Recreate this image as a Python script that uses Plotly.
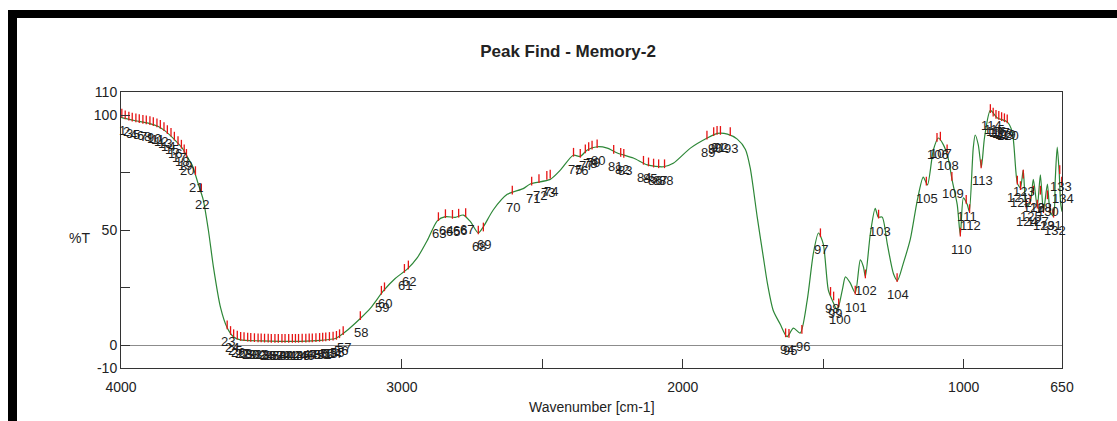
import plotly.graph_objects as go

# ---- data -----------------------------------------------------------------
curve_wn = [4000, 3985, 3949, 3903, 3867, 3842, 3807, 3782, 3760, 3746, 3725, 3707, 3689, 3671,
            3646, 3622, 3600, 3575, 3504, 3433, 3362, 3290, 3237, 3209, 3184, 3148, 3112, 3066,
            3023, 2981, 2945, 2909, 2874, 2845, 2810, 2781, 2756, 2728, 2710, 2675, 2625, 2568,
            2543, 2472, 2436, 2390, 2365, 2340, 2304, 2269, 2233, 2176, 2126, 2069, 2034, 1973,
            1913, 1877, 1841, 1806, 1777, 1760, 1735, 1713, 1699, 1678, 1653, 1629, 1606, 1582,
            1557, 1535, 1517, 1500, 1482, 1468, 1450, 1432, 1421, 1404, 1386, 1368, 1357, 1350,
            1332, 1315, 1304, 1290, 1272, 1250, 1236, 1215, 1190, 1165, 1144, 1129, 1108, 1090,
            1072, 1055, 1040, 1023, 1012, 1001, 987, 980, 966, 959, 948, 937, 926, 905, 880,
            845, 827, 809, 798, 788, 777, 763, 752, 738, 727, 716, 702, 692, 680, 674, 667,
            660, 655, 650]
curve_t = [99, 98.5, 97.5, 96.5, 95, 93, 89, 85.6, 81, 78, 70, 63, 50, 34,
           16.5, 7.5, 3.6, 2.2, 1.8, 1.6, 1.6, 2.0, 2.8, 5, 7.5, 11.5, 16, 23.5,
           29, 33, 38, 45.6, 54, 55.8, 55.5, 56.5, 53.6, 48.7, 51.4, 58.7, 65.5, 68,
           70, 72, 76, 82.5, 82, 84.8, 86.2, 85.6, 83.5, 81.3, 78.3, 77.5, 79, 85.6,
           90, 92, 91.7, 89.5, 85, 77, 55.6, 38, 27, 15, 9, 3.6, 7.3, 5.2,
           19.5, 40, 48.7, 44, 24, 19.5, 15.2, 24, 29.6, 27, 22.6, 37, 34, 29.6,
           48.7, 59.4, 55.6, 55.6, 44, 31, 28, 35.5, 46, 63, 73, 69.6, 84.8, 90,
           87, 81, 71, 61, 47.8, 64, 61, 58, 85.6, 91.3, 87, 77.4, 90, 102, 98.7,
           97, 92.6, 70.4, 68.3, 76, 60, 62, 72, 60, 74, 58, 70, 58, 56, 72, 86,
           75, 62, 58]

peak_wn = [3997, 3985, 3972, 3960, 3947, 3935, 3922, 3910, 3897, 3885, 3872, 3860, 3847, 3835,
           3822, 3810, 3797, 3785, 3775, 3767, 3735, 3714,
           3622, 3610, 3599, 3586, 3574, 3562, 3549, 3538, 3525, 3512, 3501, 3489, 3476, 3465,
           3452, 3440, 3427, 3416, 3403, 3390, 3379, 3368, 3355, 3342, 3330, 3319, 3306, 3293,
           3282, 3271, 3258, 3245, 3233, 3222, 3209,
           3148, 3073, 3062, 2991, 2977, 2870, 2845, 2820, 2798, 2773, 2728, 2710, 2607,
           2538, 2512, 2484, 2472, 2389, 2365, 2347, 2335, 2323, 2305, 2246, 2221, 2210,
           2140, 2122, 2104, 2086, 2065, 1914, 1890, 1878, 1866, 1831,
           1634, 1622, 1576, 1510, 1474, 1463, 1445, 1386, 1350, 1303, 1237, 1133, 1095,
           1083, 1059, 1042, 1012, 991, 979, 938, 905, 895, 885, 875, 865, 855, 845,
           809, 798, 788, 777, 763, 752, 738, 727, 716, 702, 692, 680, 658, 651]
peak_t = [99.5, 98.8, 98.2, 97.8, 97.4, 97.1, 96.8, 96.6, 96.3, 95.8, 95.3, 94.6, 93.6, 92.3,
          91.2, 89.5, 87.6, 86, 84, 82, 74.5, 67,
          7.5, 5, 3.6, 3, 2.5, 2.3, 2.1, 2.0, 1.9, 1.8, 1.8, 1.7, 1.7, 1.6,
          1.6, 1.6, 1.6, 1.6, 1.6, 1.6, 1.6, 1.6, 1.7, 1.7, 1.8, 1.8, 1.9, 2.0,
          2.1, 2.2, 2.4, 2.6, 2.9, 3.6, 5,
          11.5, 22.5, 24, 32, 33.5, 54.5, 55.8, 55.5, 56, 56.3, 48.7, 50, 66,
          70, 71, 72.5, 73, 82.5, 82, 84, 85, 85.6, 86.2, 83.8, 82.5, 82,
          79, 78.3, 77.8, 77.5, 77.5, 90, 91.5, 92, 92, 91.5,
          4, 3.8, 5.5, 47.5, 22, 20, 17, 22.6, 29.6, 55.6, 28, 70, 89,
          89.5, 84, 72, 47.8, 62, 58, 77.5, 101.5, 100, 99, 98.5, 98, 97.5, 97,
          70.4, 68, 73, 60, 62, 66, 60, 66, 58, 64, 58, 56, 75, 70]
peak_labels = [str(i + 1) for i in range(len(peak_wn))]

x_tick_vals = [4000, 3000, 2000, 1000, 650]
x_tick_text = ["4000", "3000", "2000", "1000", "650"]
x_minor_vals = [2500, 1500]
y_tick_vals = [110, 100, 50, 0, -10]
y_tick_text = ["110", "100", "50", "0", "-10"]
y_minor_vals = [75, 25]

title_text = "Peak Find - Memory-2"
x_title = "Wavenumber [cm-1]"
y_title = "%T"

# ---- figure ---------------------------------------------------------------
W, H = 1117, 421
L, R, T, B = 121, 1062, 92, 368
FONT = "Liberation Sans, Arial, sans-serif"


def px_x(p):
    return (p - L) / (R - L)


def px_y(p):
    return (B - p) / (B - T)


fig = go.Figure()

fig.add_trace(go.Scatter(
    x=curve_wn, y=curve_t, mode="lines",
    line=dict(color="rgb(45,135,55)", width=1.2, shape="spline", smoothing=0.7),
    hoverinfo="skip", showlegend=False))

seg_x, seg_y = [], []
for w, t in zip(peak_wn, peak_t):
    seg_x += [w, w, None]
    seg_y += [t - 0.6, t + 3.2, None]
fig.add_trace(go.Scatter(
    x=seg_x, y=seg_y, mode="lines",
    line=dict(color="rgb(230,20,20)", width=1.3),
    hoverinfo="skip", showlegend=False))

annotations = []
for w, t, lab in zip(peak_wn, peak_t, peak_labels):
    annotations.append(dict(
        x=w, y=t, xref="x", yref="y", text=lab, showarrow=False,
        xanchor="center", yanchor="middle", yshift=-14, xshift=1,
        font=dict(family=FONT, size=13, color="#1e1e1e")))

annotations.append(dict(
    x=0.5, y=px_y(407), xref="paper", yref="paper", text=x_title, showarrow=False,
    xanchor="center", yanchor="middle", font=dict(family=FONT, size=14, color="#222")))
annotations.append(dict(
    x=px_x(79), y=px_y(238), xref="paper", yref="paper", text=y_title, showarrow=False,
    xanchor="center", yanchor="middle", font=dict(family=FONT, size=14, color="#222")))

shapes = [
    dict(type="rect", xref="paper", yref="paper",
         x0=px_x(8), x1=px_x(W + 5), y0=px_y(18), y1=px_y(10),
         fillcolor="black", line=dict(width=0), layer="above"),
    dict(type="rect", xref="paper", yref="paper",
         x0=px_x(8), x1=px_x(17), y0=px_y(H + 5), y1=px_y(10),
         fillcolor="black", line=dict(width=0), layer="above"),
]

fig.update_layout(
    width=W, height=H,
    margin=dict(l=L, r=W - R, t=T, b=H - B, pad=0),
    paper_bgcolor="white", plot_bgcolor="white",
    showlegend=False,
    title=dict(text="<b>" + title_text + "</b>", x=568 / W, y=1 - 51 / H,
               xref="container", yref="container", xanchor="center", yanchor="middle",
               font=dict(family=FONT, size=17, color="#222")),
    annotations=annotations,
    shapes=shapes,
    xaxis=dict(range=[4000, 650], showgrid=False, zeroline=False,
               showline=True, mirror=True, linecolor="#333", linewidth=1,
               ticks="inside", ticklen=9, tickcolor="#333", tickwidth=1,
               tickmode="array", tickvals=x_tick_vals, ticktext=x_tick_text,
               ticklabelstandoff=6,
               minor=dict(tickmode="array", tickvals=x_minor_vals, ticks="inside",
                          ticklen=9, tickcolor="#333", showgrid=False),
               tickfont=dict(family=FONT, size=14, color="#222")),
    yaxis=dict(range=[-10, 110], showgrid=False,
               zeroline=True, zerolinecolor="#8c8c8c", zerolinewidth=1,
               showline=True, mirror=True, linecolor="#333", linewidth=1,
               ticks="inside", ticklen=9, tickcolor="#333", tickwidth=1,
               tickmode="array", tickvals=y_tick_vals, ticktext=y_tick_text,
               minor=dict(tickmode="array", tickvals=y_minor_vals, ticks="inside",
                          ticklen=9, tickcolor="#333", showgrid=False),
               tickfont=dict(family=FONT, size=14, color="#222")),
)

fig.write_html("out.html")
